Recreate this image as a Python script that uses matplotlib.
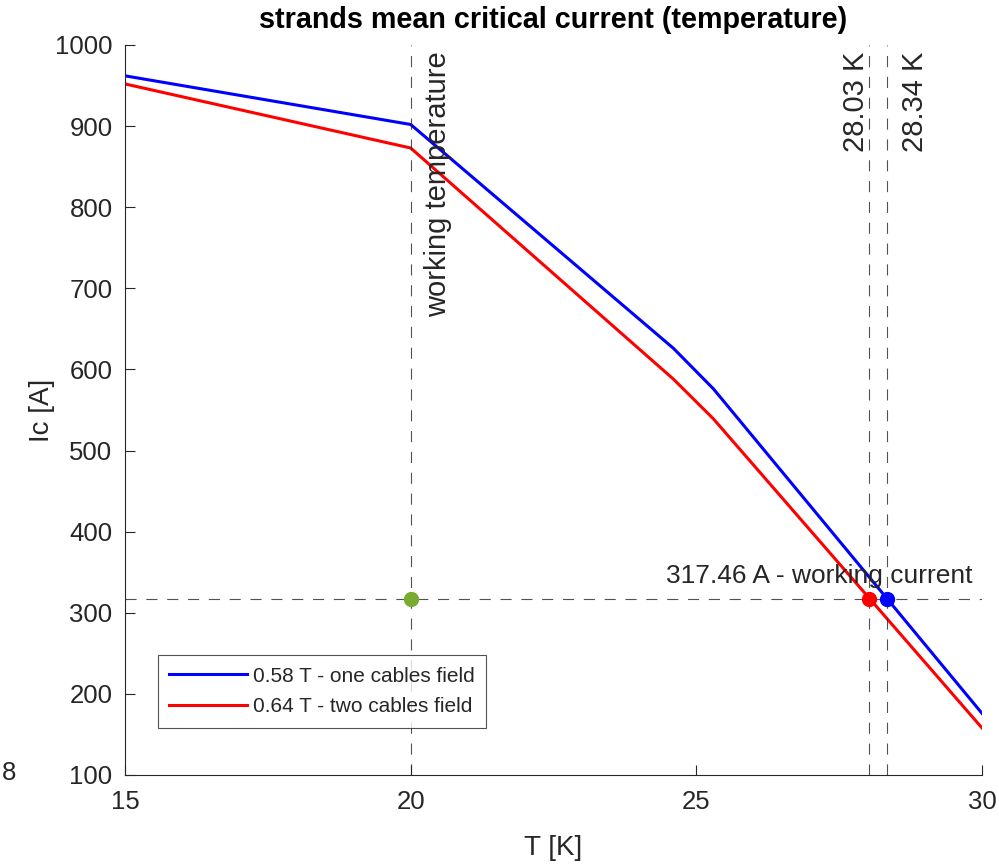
import numpy as np
import matplotlib.pyplot as plt

plt.rcParams['font.family'] = ['Liberation Sans', 'DejaVu Sans']
plt.rcParams['lines.scale_dashes'] = False

# --- data ---
temp = [15, 20, 24.6, 25.3, 30]
ic_one = [962, 902, 626, 576, 176]   # 0.58 T - one cables field
ic_two = [952, 873, 588, 539, 158]   # 0.64 T - two cables field

work_temp = 20
work_current = 317.46
t_cross_one = 28.34
t_cross_two = 28.03

xticks = [15, 20, 25, 30]
yticks = [100, 200, 300, 400, 500, 600, 700, 800, 900, 1000]

txt = (0.15, 0.15, 0.15)
dash = (0, (8, 7))
green = (0.466, 0.674, 0.188)

fig = plt.figure(figsize=(9.99, 8.65), dpi=100)
ax = fig.add_axes([125/999, 1 - 775/865, 857/999, 730/865])

ax.plot(temp, ic_one, color='blue', lw=2.2, label='0.58 T - one cables field')
ax.plot(temp, ic_two, color='red', lw=2.2, label='0.64 T - two cables field')

# reference lines
ax.axhline(work_current, color=txt, lw=0.8, ls=dash, alpha=0.8)
for t in [work_temp, t_cross_two, t_cross_one]:
    ax.axvline(t, color=txt, lw=0.8, ls=dash, alpha=0.8)

ax.plot(work_temp, work_current, 'o', color=green, ms=10)
ax.plot(t_cross_two, work_current, 'o', color='red', ms=10)
ax.plot(t_cross_one, work_current, 'o', color='blue', ms=10)

# annotations
ax.text(20.48, 992, 'working temperature', rotation=90, ha='center', va='top',
        fontsize=21, color=txt)
ax.text(27.8, 992, f'{t_cross_two:.2f} K', rotation=90, ha='center', va='top',
        fontsize=21, color=txt)
ax.text(28.82, 992, f'{t_cross_one:.2f} K', rotation=90, ha='center', va='top',
        fontsize=21, color=txt)
ax.text(29.83, 330, f'{work_current:.2f} A - working current', ha='right',
        va='bottom', fontsize=19, color=txt)

ax.set_xlim(15, 30)
ax.set_ylim(100, 1000)
ax.set_xticks(xticks)
ax.set_yticks(yticks)
ax.tick_params(direction='in', length=7, labelsize=18.5, colors=txt)
ax.tick_params(axis='x', pad=11)
ax.tick_params(axis='y', pad=9)
for s in ['top', 'right']:
    ax.spines[s].set_visible(False)
for s in ['left', 'bottom']:
    ax.spines[s].set_color(txt)

ax.set_title('strands mean critical current (temperature)', fontsize=20.7,
             fontweight='bold', pad=12)
ax.set_xlabel('T [K]', fontsize=20, color=txt, labelpad=15)
ax.set_ylabel('Ic [A]', fontsize=20, color=txt, labelpad=0)

leg = ax.legend(loc='upper left', bbox_to_anchor=(0.0385, 0.164), fontsize=15,
                frameon=True, fancybox=False, handlelength=3.7,
                borderaxespad=0, borderpad=0.55, labelspacing=0.55,
                handletextpad=0.3)
leg.get_frame().set_edgecolor(txt)
leg.get_frame().set_linewidth(0.8)
for t in leg.get_texts():
    t.set_color(txt)

fig.text(2/999, 1 - 773/865, '8', fontsize=18.5, color=txt, ha='left', va='center')

fig.savefig('out.png', dpi=100)
